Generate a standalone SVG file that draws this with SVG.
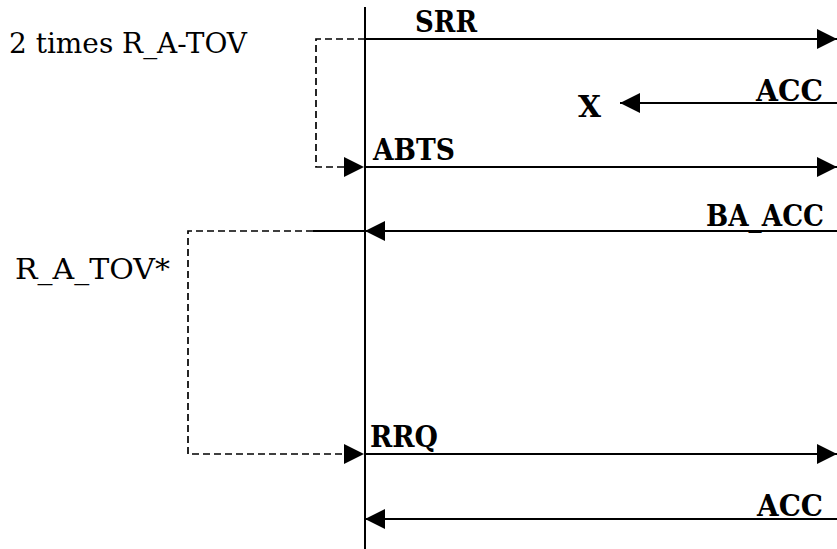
<svg xmlns="http://www.w3.org/2000/svg" width="837" height="549" viewBox="0 0 837 549">
<style>
.ln{stroke:#000;stroke-width:2;fill:none}
.dash{stroke:#000;stroke-width:1.7;fill:none;stroke-dasharray:7 4}
text{font-family:'DejaVu Serif','Liberation Serif',serif;font-size:28px;fill:#000}
.b{font-weight:bold;font-size:29px}
</style>
<defs>
<marker id="ah" viewBox="0 0 20 20" refX="20" refY="10" markerWidth="20" markerHeight="20" markerUnits="userSpaceOnUse" orient="auto">
<path d="M0,0 L20,10 L0,20 Z" fill="#000"/>
</marker>
</defs>
<rect width="837" height="549" fill="#fff"/>
<g id="lifeline"><line class="ln" x1="365" y1="7" x2="365" y2="549"/></g>
<g id="connectors">
<line class="ln" x1="365" y1="39" x2="837" y2="39" marker-end="url(#ah)"/>
<line class="ln" x1="837" y1="103" x2="620" y2="103" marker-end="url(#ah)"/>
<line class="ln" x1="365" y1="167" x2="837" y2="167" marker-end="url(#ah)"/>
<line class="ln" x1="837" y1="231" x2="313" y2="231"/>
<path d="M385,221 L365,231 L385,241 Z" fill="#000"/>
<line class="ln" x1="365" y1="454" x2="837" y2="454" marker-end="url(#ah)"/>
<line class="ln" x1="837" y1="519" x2="365" y2="519" marker-end="url(#ah)"/>
<path class="dash" d="M365,39 H316 V167 H345"/>
<path d="M344,157 L364,167 L344,177 Z" fill="#000"/>
<path class="dash" d="M313,231 H188 V454 H345"/>
<path d="M344,444 L364,454 L344,464 Z" fill="#000"/>
</g>
<g id="labels">
<text x="9" y="53" textLength="238" lengthAdjust="spacingAndGlyphs">2 times R_A-TOV</text>
<text x="15" y="279" textLength="155" lengthAdjust="spacingAndGlyphs">R_A_TOV*</text>
<text class="b" x="415" y="32" textLength="62" lengthAdjust="spacingAndGlyphs">SRR</text>
<text class="b" x="578" y="117" textLength="23" lengthAdjust="spacingAndGlyphs">X</text>
<text class="b" x="756" y="101" textLength="67" lengthAdjust="spacingAndGlyphs">ACC</text>
<text class="b" x="373" y="160" textLength="82" lengthAdjust="spacingAndGlyphs">ABTS</text>
<text class="b" x="706" y="226" textLength="118" lengthAdjust="spacingAndGlyphs">BA_ACC</text>
<text class="b" x="370" y="447" textLength="68" lengthAdjust="spacingAndGlyphs">RRQ</text>
<text class="b" x="757" y="516" textLength="66" lengthAdjust="spacingAndGlyphs">ACC</text>
</g>
</svg>
